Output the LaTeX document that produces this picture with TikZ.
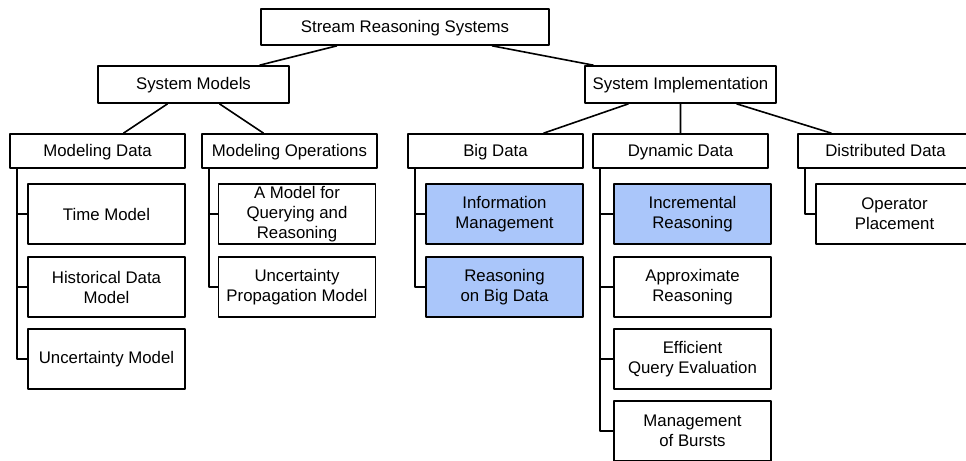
\documentclass[tikz,border=0pt]{standalone}
\usepackage{fontspec}
\setmainfont{Liberation Sans}
\definecolor{hiblue}{RGB}{170,198,250}
\begin{document}
\begin{tikzpicture}[x=0.5pt, y=-0.5pt, line join=round, line width=0.8pt, font=\fontsize{8.4}{10}\selectfont,
	box/.style={draw, inner sep=0pt, align=center},
	oneline/.style={text height=7pt, text depth=1.8pt},
	rootbox/.style={box, oneline, minimum width=144pt, minimum height=18pt},
	groupbox/.style={box, oneline, minimum width=95.5pt, minimum height=18.5pt},
	catbox/.style={box, oneline, minimum width=87.5pt, minimum height=17pt},
	leafbox/.style={box, minimum width=78.5pt, minimum height=30pt},
	hi/.style={fill=hiblue}]
	\useasboundingbox (0,0) rectangle (966,461);
	\node[rootbox] (root) at (405,27) {Stream Reasoning Systems};
	\node[groupbox] (sm) at (193.5,84.5) {System Models};
	\node[groupbox] (si) at (680.5,84.5) {System Implementation};
	%categories
	\node[catbox] (md) at (97.5,151) {Modeling Data};
	\node[catbox] (mo) at (289.5,151) {Modeling Operations};
	\node[catbox] (bd) at (495.5,151) {Big Data};
	\node[catbox] (dd) at (680.5,151) {Dynamic Data};
	\node[catbox] (ds) at (885.5,151) {Distributed Data};
	%leaves
	\node[leafbox] (md1) at (106.5,214) {Time Model};
	\node[leafbox] (md2) at (106.5,287) {Historical Data\\Model};
	\node[leafbox] (md3) at (106.5,359) {Uncertainty Model};
	\node[leafbox] (mo1) at (297,214) {A Model for\\Querying and\\Reasoning};
	\node[leafbox] (mo2) at (297,287) {Uncertainty\\Propagation Model};
	\node[leafbox,hi] (bd1) at (504.5,214) {Information\\Management};
	\node[leafbox,hi] (bd2) at (504.5,287) {Reasoning\\on Big Data};
	\node[leafbox,hi] (dd1) at (692.5,214) {Incremental\\Reasoning};
	\node[leafbox] (dd2) at (692.5,287) {Approximate\\Reasoning};
	\node[leafbox] (dd3) at (692.5,359) {Efficient\\Query Evaluation};
	\node[leafbox] (dd4) at (692.5,431) {Management\\of Bursts};
	\node[leafbox] (ds1) at (894.5,214) {Operator\\Placement};
	\draw ([xshift=-34pt]root.south) -- ([xshift=33pt]sm.north)
	([xshift=43.5pt]root.south) -- ([xshift=-43.5pt]si.north);
	\draw ([xshift=-13pt]sm.south) -- ([xshift=13pt]md.north)
	([xshift=13pt]sm.south) -- ([xshift=-13pt]mo.north);
	\draw ([xshift=-26pt]si.south) -- ([xshift=24pt]bd.north)
	(si.south) -- (dd.north)
	([xshift=28pt]si.south) -- ([xshift=-27pt]ds.north);
	\foreach \c/\n in {md/3, mo/2, bd/2, dd/4, ds/1}
	\foreach \i in {1,...,\n}
	\draw ([xshift=4pt]\c.south west) |- (\c\i.west);
\end{tikzpicture}
\end{document}
